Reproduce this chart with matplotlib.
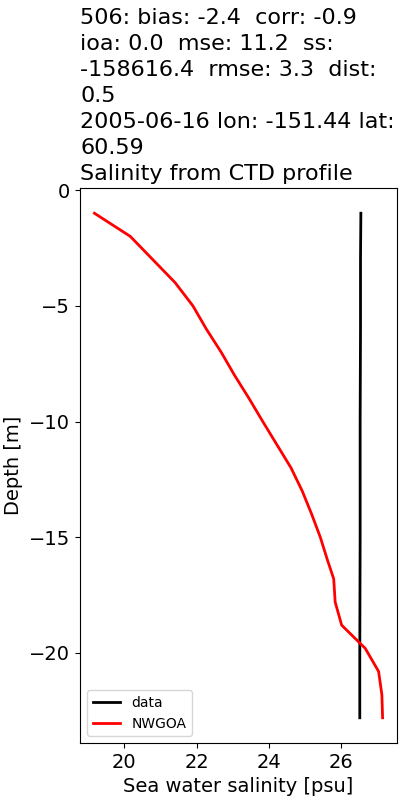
import matplotlib
matplotlib.use("Agg")
import matplotlib.pyplot as plt

# CTD profile (observations)
obs_depth = [-1.0, -3.0, -6.0, -10.0, -15.0, -20.0, -22.8]
obs_sal = [26.54, 26.53, 26.53, 26.52, 26.52, 26.51, 26.51]

# NWGOA model profile
mod_depth = [-1.0, -2.0, -3.0, -4.0, -5.0, -6.0, -7.0, -8.0, -9.0, -10.0,
             -11.0, -12.0, -13.0, -14.0, -15.0, -16.0, -16.8, -17.8, -18.8,
             -19.8, -20.8, -21.8, -22.8]
mod_sal = [19.18, 20.17, 20.79, 21.41, 21.90, 22.27, 22.68, 23.05, 23.45, 23.83,
           24.22, 24.61, 24.92, 25.18, 25.42, 25.62, 25.79, 25.83, 26.01,
           26.66, 27.03, 27.12, 27.14]

title = ("506: bias: -2.4  corr: -0.9\n"
         "ioa: 0.0  mse: 11.2  ss:\n"
         "-158616.4  rmse: 3.3  dist:\n"
         "0.5\n"
         "2005-06-16 lon: -151.44 lat:\n"
         "60.59\n"
         "Salinity from CTD profile")

plt.rcParams["font.size"] = 14

fig, ax = plt.subplots(figsize=(4, 8), dpi=100)
fig.subplots_adjust(left=0.2, right=0.9925, bottom=0.07125, top=0.765)

ax.plot(obs_sal, obs_depth, color="black", lw=2, label="data")
ax.plot(mod_sal, mod_depth, color="red", lw=2, label="NWGOA")

ax.set_xlabel("Sea water salinity [psu]")
ax.set_ylabel("Depth [m]")
ax.set_title(title, loc="left", fontsize=16, linespacing=1.37)
ax.legend(loc="lower left", fontsize=10)

fig.savefig("out.png")
